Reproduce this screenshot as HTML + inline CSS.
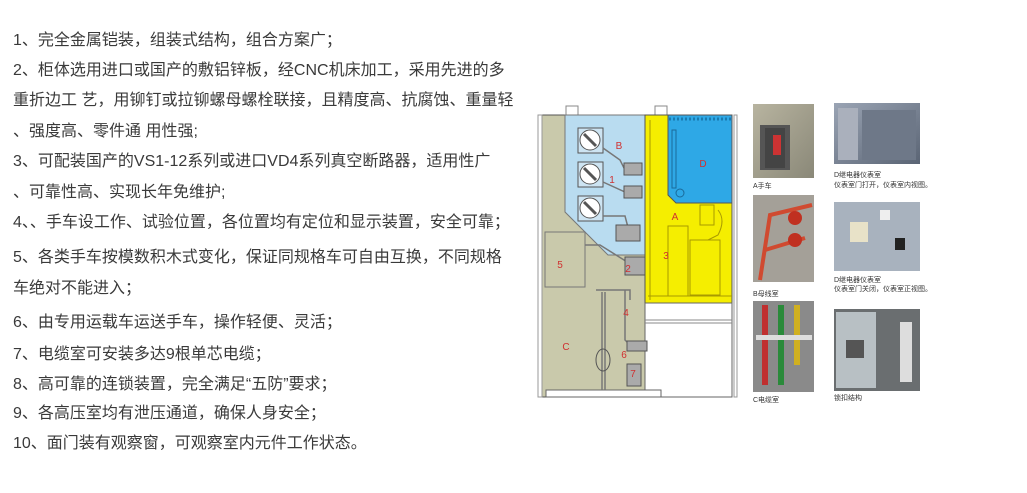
<!DOCTYPE html>
<html><head><meta charset="utf-8"><style>
html,body{margin:0;padding:0;background:#fff;}
body{width:1027px;height:493px;position:relative;overflow:hidden;font-family:"Liberation Sans","Noto Sans CJK SC",sans-serif;}
.t{position:absolute;left:13px;font-size:16px;color:#3a3a3a;white-space:nowrap;line-height:20px;}
svg{position:absolute;left:0;top:0;}
.c{position:absolute;font-size:7px;color:#333;white-space:nowrap;line-height:9px;}
</style></head><body>
<div class="t" style="top:31px">1、完全金属铠装，组装式结构，组合方案广；</div>
<div class="t" style="top:61px">2、柜体选用进口或国产的敷铝锌板，经CNC机床加工，采用先进的多</div>
<div class="t" style="top:91px">重折边工 艺，用铆钉或拉铆螺母螺栓联接，且精度高、抗腐蚀、重量轻</div>
<div class="t" style="top:122px">、强度高、零件通 用性强;</div>
<div class="t" style="top:152px">3、可配装国产的VS1-12系列或进口VD4系列真空断路器，适用性广</div>
<div class="t" style="top:183px">、可靠性高、实现长年免维护;</div>
<div class="t" style="top:213px">4、、手车设工作、试验位置，各位置均有定位和显示装置，安全可靠；</div>
<div class="t" style="top:248px">5、各类手车按模数积木式变化，保证同规格车可自由互换，不同规格</div>
<div class="t" style="top:279px">车绝对不能进入；</div>
<div class="t" style="top:313px">6、由专用运载车运送手车，操作轻便、灵活；</div>
<div class="t" style="top:345px">7、电缆室可安装多达9根单芯电缆；</div>
<div class="t" style="top:375px">8、高可靠的连锁装置，完全满足“五防”要求；</div>
<div class="t" style="top:404px">9、各高压室均有泄压通道，确保人身安全；</div>
<div class="t" style="top:434px">10、面门装有观察窗，可观察室内元件工作状态。</div>

<svg width="1027" height="493" viewBox="0 0 1027 493">
<!-- lifting lugs -->
<rect x="566" y="106" width="12" height="9" fill="none" stroke="#888"/>
<rect x="655" y="106" width="12" height="9" fill="none" stroke="#888"/>
<!-- olive body -->
<rect x="542" y="115" width="103" height="282" fill="#c9c9ab" stroke="#555"/>
<!-- light blue B -->
<polygon points="565,115 645,115 645,255 608,255 565,212" fill="#b9dcf0" stroke="#777"/>
<!-- yellow -->
<rect x="645" y="115" width="87" height="188" fill="#f5ee00" stroke="#555"/>
<!-- D -->
<polygon points="668,115 732,115 732,203 676,203 668,195" fill="#2ea8e6" stroke="#555"/>
<line x1="669" y1="119" x2="731" y2="119" stroke="#1a7ab0" stroke-width="3" stroke-dasharray="2,2"/>
<rect x="672" y="130" width="4" height="58" fill="none" stroke="#1a6a9a"/>
<circle cx="680" cy="193" r="4" fill="none" stroke="#1a6a9a"/>
<!-- white lower right -->
<rect x="645" y="303" width="87" height="94" fill="#fff" stroke="#666"/>
<line x1="645" y1="320" x2="732" y2="320" stroke="#888"/>
<line x1="645" y1="323" x2="732" y2="323" stroke="#888"/>
<rect x="734" y="115" width="3" height="282" fill="none" stroke="#999"/>
<rect x="538" y="115" width="4" height="282" fill="none" stroke="#999"/>
<rect x="546" y="390" width="115" height="7" fill="#fff" stroke="#666"/>
<!-- B boxes -->
<g fill="#cde4f2" stroke="#555">
<rect x="578" y="128" width="25" height="25"/><rect x="578" y="162" width="25" height="25"/><rect x="578" y="196" width="25" height="25"/>
</g>
<g fill="#fff" stroke="#555">
<circle cx="590" cy="140" r="10"/><circle cx="590" cy="174" r="10"/><circle cx="590" cy="208" r="10"/>
</g>
<g stroke="#555" stroke-width="3"><line x1="584" y1="134" x2="596" y2="146"/><line x1="584" y1="168" x2="596" y2="180"/><line x1="584" y1="202" x2="596" y2="214"/></g>
<g fill="none" stroke="#777" stroke-width="1.5">
<polyline points="603,148 620,160 625,170 640,170"/>
<polyline points="603,182 625,192 640,192"/>
<polyline points="603,216 625,216 630,235"/>
<polyline points="585,245 600,245 640,270 640,262"/>
<polyline points="596,290 630,290 630,300"/>
<line x1="602" y1="292" x2="602" y2="390"/>
<line x1="605" y1="292" x2="605" y2="390"/>
<polyline points="625,290 625,340 630,345 640,345"/>
</g>
<g fill="#aaa" stroke="#555"><rect x="624" y="163" width="18" height="12"/><rect x="624" y="186" width="18" height="12"/><rect x="616" y="225" width="24" height="16"/><rect x="625" y="257" width="20" height="18"/><rect x="627" y="341" width="20" height="10"/><rect x="627" y="364" width="14" height="22"/></g>
<ellipse cx="603" cy="360" rx="7" ry="11" fill="none" stroke="#555"/>
<rect x="545" y="232" width="40" height="55" fill="none" stroke="#777"/>
<!-- yellow details -->
<g fill="none" stroke="#a89a00">
<rect x="668" y="226" width="20" height="70"/><rect x="690" y="240" width="30" height="55"/>
<rect x="700" y="205" width="14" height="20"/><path d="M718 210 q8 10 0 25 l-10 5"/>
<line x1="648" y1="296" x2="732" y2="296"/><line x1="650" y1="120" x2="650" y2="300"/>
</g>
<g font-family="Liberation Sans" font-size="10" fill="#d03030" text-anchor="middle">
<text x="619" y="149">B</text><text x="612" y="183">1</text><text x="703" y="167">D</text><text x="675" y="220">A</text>
<text x="666" y="259">3</text><text x="628" y="272">2</text><text x="560" y="268">5</text><text x="626" y="316">4</text>
<text x="566" y="350">C</text><text x="624" y="358">6</text><text x="633" y="377">7</text>
</g>
<!-- photos -->
<defs>
<linearGradient id="g1" x1="0" y1="0" x2="1" y2="1"><stop offset="0" stop-color="#b8b4a0"/><stop offset="1" stop-color="#8a8878"/></linearGradient>
<linearGradient id="g2" x1="0" y1="0" x2="1" y2="1"><stop offset="0" stop-color="#9aa4b4"/><stop offset="1" stop-color="#5a6474"/></linearGradient>
</defs>
<rect x="753" y="104" width="61" height="74" fill="url(#g1)"/>
<rect x="760" y="125" width="30" height="45" fill="#555"/><rect x="765" y="128" width="20" height="40" fill="#444"/><rect x="773" y="135" width="8" height="20" fill="#c33"/>
<rect x="834" y="103" width="86" height="61" fill="url(#g2)"/>
<rect x="838" y="108" width="20" height="52" fill="#aab0bc"/><rect x="862" y="110" width="54" height="50" fill="#6e7888"/>
<rect x="753" y="195" width="61" height="87" fill="#a4a098"/>
<path d="M760 280 L770 215 L812 205" stroke="#d04a30" stroke-width="4" fill="none"/><path d="M765 250 L805 238" stroke="#d04a30" stroke-width="4"/>
<circle cx="795" cy="218" r="7" fill="#c03020"/><circle cx="795" cy="240" r="7" fill="#c03020"/>
<rect x="834" y="202" width="86" height="69" fill="#a8b2be"/>
<rect x="850" y="222" width="18" height="20" fill="#e8e2c8"/><rect x="880" y="210" width="10" height="10" fill="#eee"/><rect x="895" y="238" width="10" height="12" fill="#222"/>
<rect x="753" y="301" width="61" height="91" fill="#8a8a8a"/>
<rect x="762" y="305" width="6" height="80" fill="#c03030"/><rect x="778" y="305" width="6" height="80" fill="#2a8a3a"/><rect x="794" y="305" width="6" height="60" fill="#d0b020"/>
<rect x="756" y="335" width="56" height="5" fill="#ddd"/>
<rect x="834" y="309" width="86" height="82" fill="#6a6e70"/>
<rect x="836" y="312" width="40" height="76" fill="#b8c0c4"/><rect x="846" y="340" width="18" height="18" fill="#555"/>
<rect x="900" y="322" width="12" height="60" fill="#ddd"/>
</svg>
<div class="c" style="left:753px;top:182px">A手车</div>
<div class="c" style="left:834px;top:171px">D继电器仪表室</div>
<div class="c" style="left:834px;top:181px">仪表室门打开，仪表室内视图。</div>
<div class="c" style="left:753px;top:290px">B母线室</div>
<div class="c" style="left:834px;top:276px">D继电器仪表室</div>
<div class="c" style="left:834px;top:285px">仪表室门关闭，仪表室正视图。</div>
<div class="c" style="left:753px;top:396px">C电缆室</div>
<div class="c" style="left:834px;top:394px">锁扣结构</div>
</body></html>
